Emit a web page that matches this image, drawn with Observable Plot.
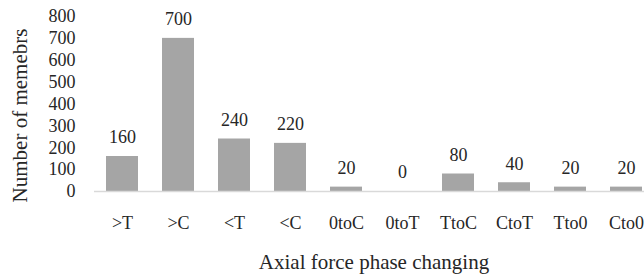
<!DOCTYPE html>
<html>
<head>
<meta charset="utf-8">
<script src="https://cdn.jsdelivr.net/npm/d3@7"></script>
<script src="https://cdn.jsdelivr.net/npm/@observablehq/plot@0.6"></script>
<style>
  html, body { margin: 0; padding: 0; background: #fff; overflow: hidden; }
  svg, svg text { font-family: "Liberation Serif", "Times New Roman", serif !important; }
</style>
</head>
<body>
<div id="chart"></div>
<script>
const categories = [">T", ">C", "<T", "<C", "0toC", "0toT", "TtoC", "CtoT", "Tto0", "Cto0"];
const values = [160, 700, 240, 220, 20, 0, 80, 40, 20, 20];
const yTicks = [0, 100, 200, 300, 400, 500, 600, 700, 800];
const yTitle = "Number of memebrs";
const xTitle = "Axial force phase changing";

const data = categories.map((c, i) => ({cat: c, val: values[i]}));
const font = "Liberation Serif";
const ink = "#262626";

const chart = Plot.plot({
  width: 644,
  height: 275,
  marginLeft: 94,
  marginRight: 0,
  marginTop: 16,
  marginBottom: 84,
  style: {fontFamily: font, fontSize: "18px", color: ink, background: "#fff", overflow: "visible"},
  x: {domain: categories, range: [94, 654], paddingInner: 0.43, paddingOuter: 0.215, label: null},
  y: {domain: [0, 800], label: null},
  marks: [
    Plot.barY(data, {x: "cat", y: "val", fill: "#a5a5a5"}),
    Plot.ruleY([0], {stroke: "#d9d9d9", strokeWidth: 1.5}),
    Plot.axisY({ticks: yTicks, tickSize: 0, tickPadding: 19, label: null, fontSize: 18, fontFamily: font}),
    Plot.axisX({tickSize: 0, tickPadding: 25, label: null, fontSize: 18, fontFamily: font}),
    Plot.text(data, {x: "cat", y: "val", text: d => String(d.val), dy: -19, fontSize: 18, fill: ink, fontFamily: font}),
    Plot.text([yTitle], {frameAnchor: "left", textAnchor: "middle", lineAnchor: "middle", dx: -74, dy: 11.5, rotate: -90, fontSize: 21, fill: ink, fontFamily: font}),
    Plot.text([xTitle], {frameAnchor: "bottom", textAnchor: "middle", lineAnchor: "middle", dx: 4.5, dy: 71, fontSize: 21, fill: ink, fontFamily: font})
  ]
});
document.getElementById("chart").appendChild(chart);
</script>
</body>
</html>
